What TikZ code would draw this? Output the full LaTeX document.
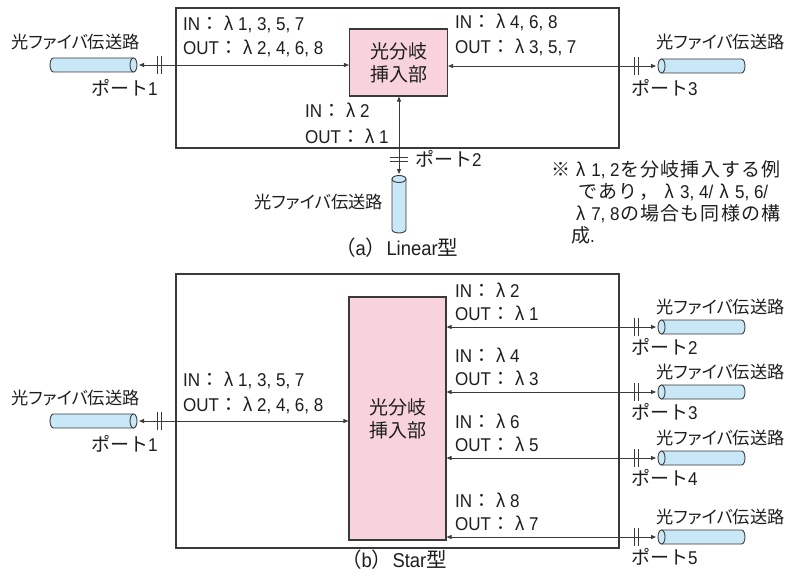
\documentclass[tikz,border=0pt]{standalone}
\usepackage{fontspec}
\setmainfont{Liberation Sans}[FakeStretch=0.92]
\newfontfamily\jp{Noto Sans CJK JP}[Scale=1.027]
\newfontfamily\jpp{Noto Sans CJK JP}[Scale=0.93,RawFeature=+palt]
\usetikzlibrary{arrows.meta}
\definecolor{pinkfill}{HTML}{F8D3DB}
\definecolor{cylblue}{HTML}{C8E7F7}
\definecolor{ink}{HTML}{3A3A3A}
\definecolor{txt}{HTML}{1E1E1E}
\newcommand\myLam{\makebox[19pt][c]{\fontsize{20}{22}\selectfont λ}}
\newcommand\myIO[2]{#1{\jp ：}\myLam #2}
\newcommand\myGl{\hspace{0pt plus 1fil}}
\newcommand\myJ[1]{{\jp #1}\myGl}
% horizontal cylinder, rounded end at left (#1), open face at right (#2), centre line #3
\newcommand\myCylR[3]{%
  \filldraw[cyl] (#1+3.5,#3-7) -- (#2,#3-7) -- (#2,#3+7) -- (#1+3.5,#3+7)
    arc[start angle=90,end angle=270,x radius=3.5,y radius=7] -- cycle;
  \filldraw[cyl] (#2,#3) ellipse[x radius=3.5,y radius=7];}
% horizontal cylinder, open face at left (#1), rounded end at right (#2)
\newcommand\myCylL[3]{%
  \filldraw[cyl] (#1,#3-7) -- (#2-3.5,#3-7)
    arc[start angle=270,end angle=450,x radius=3.5,y radius=7] -- (#1,#3+7) -- cycle;
  \filldraw[cyl] (#1,#3) ellipse[x radius=3.5,y radius=7];}
% vertical cylinder, face at top centre (#1,#2), rounded bottom centre y #3
\newcommand\myCylV[3]{%
  \filldraw[cyl] (#1-7,#2) -- (#1-7,#3)
    arc[start angle=180,end angle=0,x radius=7,y radius=3.5] -- (#1+7,#2) -- cycle;
  \filldraw[cyl] (#1,#2) ellipse[x radius=7,y radius=3.5];}
\begin{document}
\begin{tikzpicture}[x=1pt,y=-1pt,
  font=\fontsize{18.5}{22}\selectfont,
  frame/.style={draw=ink,line width=1.2pt,inner sep=0pt},
  core/.style={draw=ink,line width=1.1pt,fill=pinkfill,inner sep=0pt,align=center,
    text=txt,font=\fontsize{18.5}{23}\selectfont\jp},
  cyl/.style={draw=ink,line width=0.9pt,fill=cylblue},
  conn/.style={draw=ink,line width=0.8pt,{Triangle[length=5pt,width=4pt]}-{Triangle[length=5pt,width=4pt]}},
  bar/.style={draw=ink,line width=0.9pt},
  lbl/.style={inner sep=0pt,anchor=base west,text=txt},
  lble/.style={inner sep=0pt,anchor=base east,text=txt},
  captxt/.style={lbl,font=\fontsize{20}{22}\selectfont}]
\useasboundingbox[fill=white] (0,0) rectangle (791,580);

% ---------------- (a) Linear ----------------
\node[frame,minimum width=443,minimum height=140] (boxA) at (397.5,78) {};
\node[core,minimum width=98,minimum height=67] (pinkA) at (398.5,62.5) {光分岐\\挿入部};

\myCylR{50}{133.5}{65}
\coordinate (fA1) at (139,65);
\draw[conn] (fA1) -- (pinkA.west |- fA1);
\draw[bar] (157,56) -- (157,74) (161,56) -- (161,74);

\myCylL{661.5}{745}{66}
\coordinate (fA3) at (656,66);
\draw[conn] (pinkA.east |- fA3) -- (fA3);
\draw[bar] (634,57) -- (634,75) (638,57) -- (638,75);

\myCylV{399}{179}{229.5}
\coordinate (fA2) at (399,174);
\draw[conn] (pinkA.south -| fA2) -- (fA2);
\draw[bar] (390,157) -- (408,157) (390,161) -- (408,161);

\node[lbl] (lblA1) at (11,49) {\jpp 光ファイバ伝送路};
\node[lbl] (ptA1) at (91,96) {{\jp ポート}1};
\node[lbl] (inA1) at (183,31) {\myIO{IN}{1, 3, 5, 7}};
\node[lbl] (outA1) at (183,55) {\myIO{OUT}{2, 4, 6, 8}};
\node[lbl] (inA3) at (455,29) {\myIO{IN}{4, 6, 8}};
\node[lbl] (outA3) at (455,54) {\myIO{OUT}{3, 5, 7}};
\node[lbl] (lblA3) at (656,49) {\jpp 光ファイバ伝送路};
\node[lbl] (ptA3) at (631,96) {{\jp ポート}3};
\node[lbl] (inA2) at (305,118) {\myIO{IN}{2}};
\node[lbl] (outA2) at (305,143) {\myIO{OUT}{1}};
\node[lbl] (ptA2) at (415,166) {{\jp ポート}2};
\node[lble] (lblA2) at (383,208) {\jpp 光ファイバ伝送路};
\node[captxt] (capA) at (335,255) {{\jp （}a{\jp ）}Linear{\jp 型}};

\node[lbl] (note1) at (551,176) {\makebox[229pt][s]{{\jp ※}\myGl\myLam\myGl 1, 2\myGl\myJ{を}\myJ{分}\myJ{岐}\myJ{挿}\myJ{入}\myJ{す}\myJ{る}{\jp 例}}};
\node[lbl] (note2) at (578,198) {\makebox[190pt][s]{\myJ{で}\myJ{あ}\myJ{り}\myJ{，}\myLam\myGl 3, 4/\myGl\myLam\myGl 5, 6/}};
\node[lbl] (note3) at (571,220) {\makebox[209pt][s]{\myLam\myGl 7, 8\myGl\myJ{の}\myJ{場}\myJ{合}\myJ{も}\myJ{同}\myJ{様}\myJ{の}{\jp 構}}};
\node[lbl] (note4) at (571,242) {{\jp 成}.};

% ---------------- (b) Star ----------------
\node[frame,minimum width=443,minimum height=274] (boxB) at (397.5,411) {};
\node[core,minimum width=97,minimum height=243] (pinkB) at (397.5,418.5) {光分岐\\挿入部};

\myCylR{50}{133.5}{421}
\coordinate (fB1) at (139,421);
\draw[conn] (fB1) -- (pinkB.west |- fB1);
\draw[bar] (157,412) -- (157,430) (161,412) -- (161,430);
\node[lbl] (lblB1) at (11,404) {\jpp 光ファイバ伝送路};
\node[lbl] (ptB1) at (91,451) {{\jp ポート}1};
\node[lbl] (inB1) at (183,386) {\myIO{IN}{1, 3, 5, 7}};
\node[lbl] (outB1) at (183,411) {\myIO{OUT}{2, 4, 6, 8}};

\foreach \a/\n/\inn/\outt in {327/2/2/1,392/3/4/3,458/4/6/5,537/5/8/7}{
  \myCylL{661.5}{745}{\a}
  \coordinate (fB\n) at (656,\a);
  \draw[conn] (pinkB.east |- fB\n) -- (fB\n);
  \draw[bar] (634,\a-9) -- (634,\a+9) (638,\a-9) -- (638,\a+9);
  \node[lbl] (inB\n) at (455,\a-30) {\myIO{IN}{\inn}};
  \node[lbl] (outB\n) at (455,\a-7) {\myIO{OUT}{\outt}};
  \node[lbl] (lblB\n) at (656,\a-14) {\jpp 光ファイバ伝送路};
  \node[lbl] (ptB\n) at (631,\a+27) {{\jp ポート}\n};
}
\node[captxt] (capB) at (341,567) {{\jp （}b{\jp ）}Star{\jp 型}};
\end{tikzpicture}
\end{document}
